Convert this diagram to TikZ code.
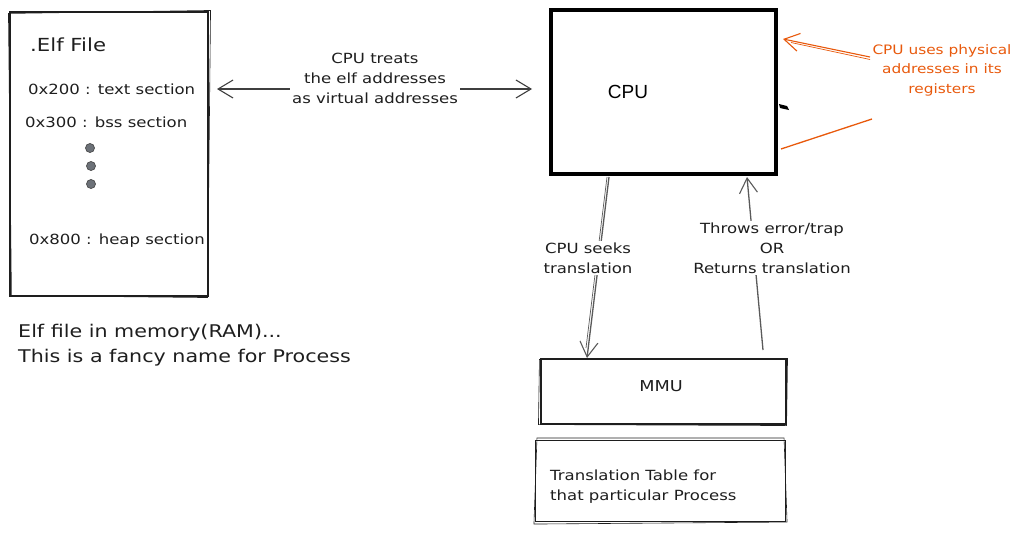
\documentclass[tikz,border=0pt]{standalone}
\usepackage{fontspec}
\newfontfamily\hand[FakeStretch=1.18]{DejaVu Sans}
\newfontfamily\helv{Liberation Sans}
\usetikzlibrary{arrows.meta,calc}
\definecolor{ink}{HTML}{1E1E1E}
\definecolor{org}{HTML}{E8590C}
\definecolor{gline}{HTML}{5A5A5A}
\definecolor{dotfill}{HTML}{6C7178}
\begin{document}
\begin{tikzpicture}[x=1pt,y=-1pt,
  txt/.style={font=\hand\fontsize{14}{20}\selectfont, inner sep=1pt, text=ink},
  skbox/.style={draw=ink, line width=1.1pt, inner sep=0pt},
  sk2/.style={draw=ink, line width=0.6pt},
  dotn/.style={circle, draw=ink!80, line width=0.7pt, fill=dotfill, minimum size=9pt, inner sep=0pt},
  barb/.style={-{Straight Barb[length=15pt,width=18pt,line width=1.1pt]}},
  barbs/.style={{Straight Barb[length=15pt,width=18pt,line width=1.1pt]}-{Straight Barb[length=15pt,width=18pt,line width=1.1pt]}},
  lbl/.style={txt, fill=white, align=center, inner sep=2pt}
]
\useasboundingbox (0,0) rectangle (1023,533);

% ---------- ELF box ----------
\node[skbox, minimum width=198pt, minimum height=284pt] (elf) at (109,154) {};
\draw[sk2] ($(elf.north west)+(-1,2)$) -- ($(elf.north east)+(2,-1)$) -- ($(elf.south east)+(-1,1)$) -- ($(elf.south west)+(2,-1)$) -- cycle;
\node[txt, font=\hand\fontsize{18}{22}\selectfont, anchor=west] (elft) at (29,45) {.Elf File};
\node[txt, anchor=west] (s1) at (27,89) {0x200 : text section};
\node[txt, anchor=west] (s2) at (24,122) {0x300 : bss section};
\node[dotn] (d1) at (90,148) {};
\node[dotn] (d2) at (91,166) {};
\node[dotn] (d3) at (91,184) {};
\node[txt, anchor=west] (s3) at (28,241) {0x800 : heap section};

\node[txt, font=\hand\fontsize{17.5}{25}\selectfont, anchor=west, align=left] (note) at (17,345) {Elf file in memory(RAM)...\\This is a fancy name for Process};

% ---------- CPU ----------
\node[draw=black, line width=4.6pt, minimum width=225pt, minimum height=164pt, inner sep=0pt] (cpu) at (663.5,92) {};
\node[font=\helv\fontsize{19}{22}\selectfont, inner sep=0pt] (cput) at (628,92) {CPU};
\fill[black] (779,104) -- (787,106) -- (789,110) -- (780,108) -- cycle;

% ---------- elf <-> cpu ----------
\coordinate (elfR) at (217,89);
\coordinate (cpuL) at (532,89);
\draw[barbs, gline!70!black, line width=1.1pt] (elfR) -- (cpuL);
\node[lbl] (treat) at (375,78) {CPU treats\\the elf addresses\\as virtual addresses};

% ---------- orange annotation ----------
\node[txt, text=org, font=\hand\fontsize{13}{19.5}\selectfont, align=center] (phys) at (942,70) {CPU uses physical\\addresses in its\\registers};
\coordinate (pa) at (870,57);
\coordinate (pb) at (783,39);
\draw[barb, org, line width=1.1pt] (pa) -- (pb);
\draw[org, line width=0.7pt] ($(pa)+(0,2.5)$) -- ($(pb)+(8,3.5)$);
\coordinate (pc) at (872,119);
\coordinate (pd) at (781,149);
\draw[org, line width=1.3pt] (pc) -- (pd);

% ---------- MMU ----------
\node[skbox, minimum width=245pt, minimum height=65pt] (mmu) at (663.5,391.5) {};
\draw[sk2] ($(mmu.north west)+(-1,1)$) -- ($(mmu.north east)+(1,0)$) -- ($(mmu.south east)+(0,1)$) -- ($(mmu.south west)+(-2,0)$) -- cycle;
\node[txt, font=\hand\fontsize{15}{20}\selectfont] (mmut) at (661,386) {MMU};

% ---------- Translation table ----------
\node[skbox, minimum width=250pt, minimum height=81pt] (tab) at (660.5,481) {};
\draw[sk2] ($(tab.north west)+(2,-2)$) -- ($(tab.north east)+(-2,-2)$) -- ($(tab.south east)+(1,0)$) -- ($(tab.south west)+(-1,2)$) -- cycle;
\node[txt, anchor=west, align=left] (tabt) at (549,487) {Translation Table for\\that particular Process};

% ---------- CPU -> MMU ----------
\coordinate (cb1) at (609,177);
\coordinate (mt1) at (587,358);
\draw[barb, gline, line width=1.3pt] (cb1) -- (mt1);
\draw[gline, line width=0.7pt] ($(cb1)+(-2,0)$) -- ($(mt1)+(-1,-10)$);
\node[lbl] (seek) at (588,258) {CPU seeks\\translation};

% ---------- MMU -> CPU ----------
\coordinate (mt2) at (763,350);
\coordinate (cb2) at (747,177);
\draw[barb, gline, line width=1.3pt] (mt2) -- (cb2);
\node[lbl] (ret) at (772,248) {Throws error/trap\\OR\\Returns translation};
\end{tikzpicture}
\end{document}
